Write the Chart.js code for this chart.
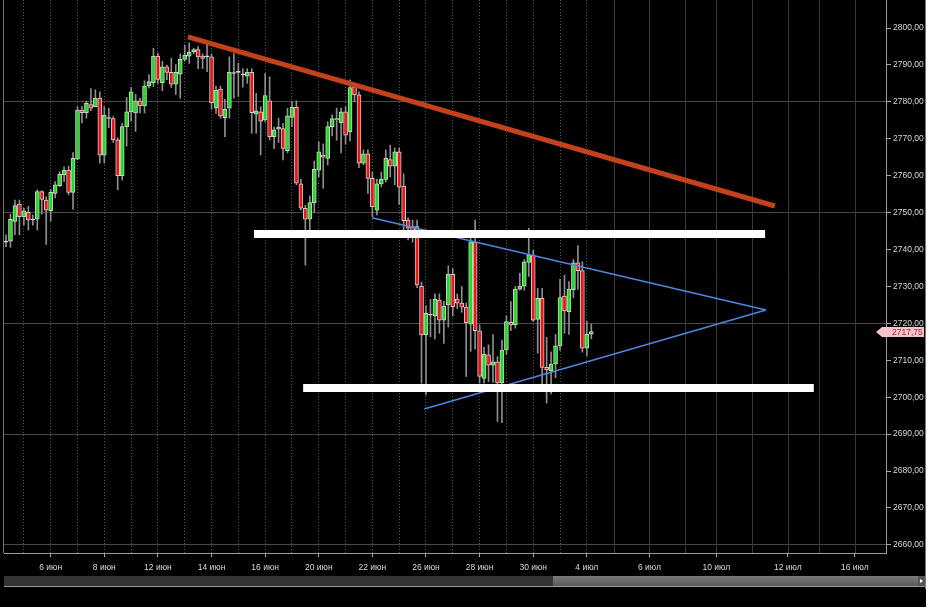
<!DOCTYPE html>
<html>
<head>
<meta charset="utf-8">
<script src="https://cdn.jsdelivr.net/npm/chart.js@4.4.1/dist/chart.umd.min.js"></script>
<style>
  html, body { margin: 0; padding: 0; background: #fff; }
  #wrap { position: absolute; left: 0; top: 0; width: 926px; height: 607px; background: #000; }
</style>
</head>
<body>
<div id="wrap"><canvas id="chart" width="926" height="607"></canvas></div>
<script>
// 4h свечи, индекс свечи = позиция по x
const openP = [2742, 2742.3, 2747.6, 2752.3, 2748.9, 2750.1, 2748, 2748.2, 2755.7, 2753.4,
  2750.5, 2755.2, 2757.3, 2760.2, 2761.5, 2755.5, 2764.5, 2777.8, 2777.1, 2779.3,
  2778.7, 2781.0, 2765.6, 2775.5, 2775.5, 2769.7, 2760.0, 2773.3, 2777.3, 2777,
  2780.3, 2778.9, 2784.3, 2785.2, 2792.4, 2785.2, 2789.5, 2788.0, 2784.8, 2787.5,
  2791.5, 2792.4, 2793.6, 2794.2, 2792.4, 2792.2, 2792.2, 2778.3, 2783.5, 2775.7,
  2778.3, 2787.7, 2788, 2787.3, 2787, 2788.0, 2776.7, 2777.3, 2775.1, 2780.3,
  2770.6, 2772.6, 2772.8, 2766.8, 2775.8, 2778.5, 2757.8, 2751.2, 2748.2, 2752.7,
  2761.5, 2765.6, 2764.7, 2773.3, 2775.5, 2774.4, 2777.3, 2771.9, 2784.1, 2781.9,
  2763.4, 2765.9, 2759.3, 2750.7, 2757.8, 2759.0, 2764.4, 2762.6, 2766.5, 2757.2,
  2748.0, 2746.2, 2746.2, 2730.1, 2716.9, 2722.2, 2722, 2726.3, 2720.9, 2725.0,
  2733.3, 2726.6, 2725.5, 2724.4, 2719.8, 2742.1, 2718.0, 2705.1, 2711.5, 2708.7,
  2709.6, 2703.9, 2712.8, 2720.3, 2719.6, 2729.3, 2730.1, 2736.5, 2738.5, 2721.1,
  2726.8, 2708.1, 2707.2, 2709.0, 2713.9, 2727.4, 2723.2, 2729.1, 2736.4, 2734.3,
  2713.3, 2717.1]
const highP = [2744, 2749.6, 2753.4, 2753.4, 2751.2, 2751.7, 2749.4, 2756.2, 2755.9, 2754.3,
  2756.3, 2758.4, 2761.1, 2762.4, 2762.6, 2766.3, 2778.7, 2778.7, 2780.2, 2783.6,
  2783.3, 2782.7, 2778.7, 2778.3, 2776.0, 2770.3, 2774.2, 2781.2, 2783.9, 2782,
  2781, 2785.7, 2787.4, 2794.5, 2793.2, 2791, 2790, 2791.8, 2790.1, 2793,
  2795.4, 2796, 2794.5, 2795, 2793, 2795.8, 2793, 2784.3, 2784.3, 2780.7,
  2792.2, 2793.1, 2790.5, 2789, 2789, 2789, 2782.3, 2778.7, 2787.7, 2786.8,
  2773.2, 2775.6, 2774.2, 2778.3, 2780.1, 2780.3, 2759, 2752, 2754.5, 2764,
  2769.2, 2768.6, 2774.6, 2776.5, 2778.3, 2778.3, 2778.7, 2786.0, 2785, 2782.7,
  2767, 2767, 2761, 2759.1, 2761, 2767, 2768.3, 2767.5, 2767.5, 2760.5,
  2748.6, 2748, 2748, 2731.2, 2724.8, 2726.5, 2728, 2728, 2726, 2735.6,
  2734.8, 2728, 2730, 2725.5, 2743.4, 2748.0, 2719.5, 2713.5, 2714.2, 2717,
  2711, 2715.5, 2722, 2725.9, 2730, 2733.6, 2737.3, 2745.8, 2739.8, 2729.5,
  2729.5, 2716.2, 2712.3, 2717, 2731.9, 2733.1, 2731.3, 2737.3, 2741.1, 2736.7,
  2720.6, 2719.8]
const lowP = [2740.8, 2740.6, 2744, 2744, 2746.6, 2745.3, 2746.6, 2745.3, 2749.6, 2741.4,
  2747.7, 2754, 2757, 2758.4, 2754.8, 2750.9, 2764.3, 2774.3, 2775.6, 2777.6,
  2778.7, 2763.4, 2763.4, 2773, 2769, 2756.2, 2758.8, 2768, 2774.8, 2772,
  2777, 2777, 2783.7, 2784.1, 2785.0, 2783, 2786, 2783.9, 2782, 2781,
  2791, 2790.4, 2793, 2789, 2789, 2788.2, 2778, 2776.9, 2775.6, 2770.6,
  2775.6, 2781, 2781.5, 2784, 2785, 2771.5, 2771.5, 2765.6, 2774.6, 2769.7,
  2767.3, 2769, 2764.3, 2766.2, 2773.3, 2757.5, 2750.7, 2735.8, 2745, 2750,
  2759.7, 2756.6, 2762.9, 2770.8, 2769.6, 2766.2, 2768.6, 2769.4, 2780, 2762.2,
  2763, 2755.2, 2748.9, 2749.4, 2757, 2758.3, 2759.7, 2757.5, 2752.2, 2744,
  2742.6, 2742, 2729.7, 2703.8, 2700.6, 2716.4, 2715.8, 2717.3, 2714.6, 2719,
  2722, 2724, 2723, 2705.6, 2712.4, 2713, 2703.8, 2703.8, 2704.2, 2704,
  2693.4, 2693.1, 2711.6, 2718, 2718.7, 2729, 2729, 2732.7, 2720.5, 2711.9,
  2703.6, 2698.4, 2700.9, 2705.3, 2712.7, 2717.3, 2717, 2726.9, 2729.2, 2712.2,
  2711.2, 2715.8]
const closeP = [2742, 2748.2, 2751.9, 2748.9, 2750.5, 2748.0, 2748, 2755.7, 2753.6, 2750.7,
  2755.5, 2757.5, 2760.4, 2761.5, 2755.5, 2764.7, 2777.8, 2777.1, 2779.6, 2778.3,
  2781.0, 2765.6, 2776.4, 2775.5, 2769.7, 2760.0, 2773.3, 2777.3, 2782.7, 2780.3,
  2778.9, 2784.3, 2785.5, 2792.4, 2786.1, 2789.5, 2788.0, 2784.8, 2788.0, 2791.5,
  2792.7, 2793.4, 2794.2, 2792.2, 2791.8, 2792.2, 2779.8, 2783.2, 2776.2, 2778.0,
  2788.0, 2787.7, 2788, 2787.3, 2788, 2777.1, 2777.6, 2774.8, 2781.7, 2770.6,
  2772.4, 2773.2, 2767.4, 2776.2, 2778.5, 2758, 2751.2, 2748.2, 2752.7, 2761.7,
  2766.5, 2765.0, 2773.3, 2775.5, 2775.1, 2777.3, 2771.0, 2783.9, 2781.9, 2763.4,
  2765.9, 2759.3, 2751.6, 2757.8, 2759.0, 2764.7, 2762.6, 2766.5, 2756.9, 2747.8,
  2745.8, 2743.5, 2730.4, 2716.9, 2722.7, 2722.4, 2726.5, 2720.9, 2724.7, 2733.3,
  2724.5, 2725.5, 2724.4, 2720.2, 2742.1, 2718.0, 2705.6, 2711.7, 2708.7, 2709.6,
  2703.9, 2712.8, 2720.5, 2719.6, 2729.3, 2730.1, 2736.7, 2738.5, 2720.9, 2726.8,
  2708.1, 2707.4, 2709, 2713.9, 2727.0, 2723.4, 2729.3, 2736.4, 2734.3, 2713.3,
  2717.1, 2717.75]

// деления оси x (индекс свечи) и подписи
const xTickPos = [4, 10, 16, 22, 28, 34, 40, 46, 52, 58, 64, 70, 76, 82, 88, 94, 100, 106, 112, 118, 124, 130,
  136, 144, 152, 159, 167, 175, 182, 190]
const xTickLabels = ['', '6 июн', '', '8 июн', '', '12 июн', '', '14 июн', '', '16 июн', '', '20 июн', '', '22 июн',
  '', '26 июн', '', '28 июн', '', '30 июн', '', '4 июл',
  '', '6 июл', '', '10 июл', '', '12 июл', '', '16 июл']
const yTicks = [2660, 2670, 2680, 2690, 2700, 2710, 2720, 2730, 2740, 2750, 2760, 2770, 2780, 2790, 2800]

// линии разметки (индекс свечи, цена)
const trendX = [40.7, 172.1]
const trendY = [2797.6, 2751.8]
const resistX = [55.5, 169.9]
const resistY = [2744.2, 2744.2]
const supportX = [66.5, 180.8]
const supportY = [2702.5, 2702.5]
const triUpX = [81.9, 170.1]
const triUpY = [2748.6, 2723.6]
const triLowX = [93.6, 170.1]
const triLowY = [2696.8, 2723.6]

const idx = openP.map((_, i) => i)
const pts = (xs, ys) => xs.map((x, i) => ({ x: x, y: ys[i] }))

function candleColor(i) {
  const d = closeP[i] - openP[i]
  if (Math.abs(d) < 0.3) return '#f0f0f0'
  return d > 0 ? '#1fdc1f' : '#ee1414'
}

const extras = {
  id: 'extras',
  beforeDatasetsDraw(chart) {
    const { ctx, chartArea, scales } = chart
    ctx.save()
    ctx.strokeStyle = '#3a3a3a'
    ctx.lineWidth = 1
    xTickPos.forEach(v => {
      if (v <= 130) return
      const x = Math.round(scales.x.getPixelForValue(v)) + 0.5
      ctx.beginPath()
      ctx.moveTo(x, chartArea.top)
      ctx.lineTo(x, chartArea.bottom)
      ctx.stroke()
    })
    ctx.restore()
  },
  afterDraw(chart) {
    const { ctx, chartArea, scales } = chart
    ctx.save()
    // рамки
    ctx.strokeStyle = '#777'
    ctx.lineWidth = 1
    ctx.beginPath()
    ctx.moveTo(chartArea.left - 0.5, chartArea.top)
    ctx.lineTo(chartArea.left - 0.5, chartArea.bottom)
    ctx.moveTo(925.5, 0)
    ctx.lineTo(925.5, 589)
    ctx.stroke()

    // полоса прокрутки
    ctx.fillStyle = '#333'
    ctx.fillRect(4, 576, 550, 10)
    const g = ctx.createLinearGradient(0, 576, 0, 586)
    g.addColorStop(0, '#7a7a7a')
    g.addColorStop(1, '#5a5a5a')
    ctx.fillStyle = g
    ctx.fillRect(553, 576, 365, 10)
    ctx.fillStyle = '#9a9a9a'
    ctx.fillRect(4, 586, 921, 1)
    ctx.fillStyle = '#555'
    ctx.fillRect(918, 576, 7, 10)
    ctx.fillStyle = '#fff'
    ctx.beginPath()
    ctx.moveTo(920, 579)
    ctx.lineTo(923, 581)
    ctx.lineTo(920, 583)
    ctx.fill()

    // метка последней цены
    const last = closeP[closeP.length - 1]
    const y = Math.round(scales.y.getPixelForValue(last))
    ctx.fillStyle = '#f6c3ca'
    ctx.beginPath()
    ctx.moveTo(876, y)
    ctx.lineTo(882, y - 5)
    ctx.lineTo(924, y - 5)
    ctx.lineTo(924, y + 5)
    ctx.lineTo(882, y + 5)
    ctx.closePath()
    ctx.fill()
    ctx.fillStyle = '#9a2a36'
    ctx.font = '8.5px "Liberation Sans", Arial'
    ctx.textBaseline = 'middle'
    ctx.fillText(last.toFixed(2).replace('.', ','), 892, y + 0.5)
    ctx.restore()
  },
}

const lineDs = (xs, ys, color, width) => ({
  type: 'line',
  data: pts(xs, ys),
  borderColor: color,
  borderWidth: width,
  pointRadius: 0,
  fill: false,
  order: 0,
})

new Chart(document.getElementById('chart'), {
  type: 'bar',
  data: {
    datasets: [
      lineDs(trendX, trendY, '#c3421b', 5),
      lineDs(resistX, resistY, '#ffffff', 8),
      lineDs(supportX, supportY, '#ffffff', 8),
      lineDs(triUpX, triUpY, '#4f86e0', 1.5),
      lineDs(triLowX, triLowY, '#4f86e0', 1.5),
      {
        label: 'body',
        data: idx.map(i => ({ x: i, y: [openP[i], closeP[i]] })),
        backgroundColor: ctx => candleColor(ctx.dataIndex),
        borderColor: '#cfcfcf',
        borderWidth: 1,
        borderSkipped: false,
        barThickness: 4,
        minBarLength: 1,
        grouped: false,
        order: 1,
      },
      {
        label: 'wick',
        data: idx.map(i => ({ x: i, y: [lowP[i], highP[i]] })),
        backgroundColor: '#8e8e8e',
        borderWidth: 0,
        barThickness: 1,
        grouped: false,
        order: 2,
      },
    ],
  },
  options: {
    responsive: false,
    animation: false,
    layout: { padding: { left: 4, top: 0, right: 0, bottom: 0 } },
    plugins: { legend: { display: false }, tooltip: { enabled: false } },
    scales: {
      x: {
        type: 'linear',
        min: -0.45,
        max: 196.96,
        offset: false,
        afterBuildTicks: scale => {
          scale.ticks = xTickPos.map(v => ({ value: v }))
        },
        afterFit: scale => {
          scale.height = 54
          scale.paddingLeft = 0
          scale.paddingRight = 0
        },
        grid: {
          offset: false,
          color: ctx => (ctx.tick && ctx.tick.value > 130 ? 'rgba(0,0,0,0)' : '#555'),
          tickColor: ctx => (xTickLabels[ctx.index] ? '#aaa' : 'rgba(0,0,0,0)'),
          tickLength: 4,
        },
        border: { color: '#9a9a9a', dash: [1, 2] },
        ticks: {
          autoSkip: false,
          maxRotation: 0,
          padding: 6,
          color: '#d8d8d8',
          font: { family: '"Liberation Sans", Arial', size: 8.5 },
          callback: (v, i) => xTickLabels[i],
        },
      },
      y: {
        position: 'right',
        min: 2657.8,
        max: 2807.6,
        afterBuildTicks: scale => {
          scale.ticks = yTicks.map(v => ({ value: v }))
        },
        afterFit: scale => {
          scale.width = 40
          scale.paddingTop = 0
          scale.paddingBottom = 0
        },
        grid: {
          color: ctx => (ctx.tick && ctx.tick.value % 30 === 20 ? '#484848' : 'rgba(0,0,0,0)'),
          tickColor: '#aaa',
          tickLength: 5,
        },
        border: { color: '#9a9a9a' },
        ticks: {
          padding: 2,
          color: '#d8d8d8',
          font: { family: '"Liberation Sans", Arial', size: 8.5 },
          callback: v => v.toFixed(2).replace('.', ','),
        },
      },
    },
  },
  plugins: [extras],
})
</script>
</body>
</html>
